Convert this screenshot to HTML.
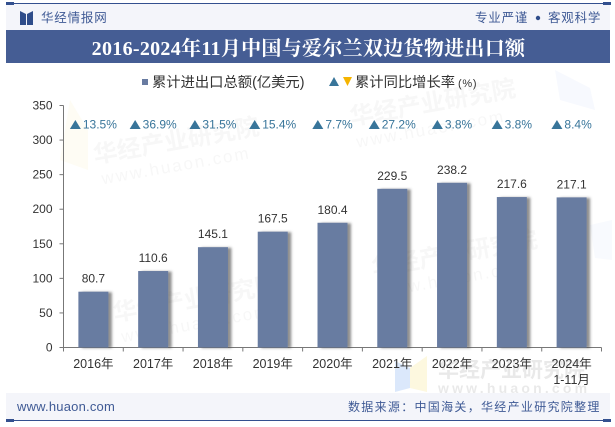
<!DOCTYPE html>
<html lang="zh">
<head>
<meta charset="utf-8">
<title>2016-2024年11月中国与爱尔兰双边货物进出口额</title>
<style>
html,body{margin:0;padding:0;background:#fff;width:615px;height:427px;overflow:hidden}
svg{display:block}
text{font-family:"Liberation Sans","Noto Sans CJK SC",sans-serif}
.serif{font-family:"Liberation Serif","Noto Serif CJK SC",serif}
</style>
</head>
<body>
<svg id="chart" xmlns="http://www.w3.org/2000/svg" width="615" height="427" viewBox="0 0 615 427">
  <defs>
    <filter id="barShadow" x="-20%" y="-5%" width="150%" height="110%">
      <feDropShadow dx="3.5" dy="0.5" stdDeviation="1.2" flood-color="#444" flood-opacity="0.6"/>
    </filter>
  </defs>
  <rect x="0" y="0" width="615" height="427" fill="#fff"/>

  <g id="watermarks">
    <g transform="rotate(-10 420 100)" opacity="0.035">
      <text x="348" y="113" font-size="24" font-weight="700" fill="#333">华经产业研究院</text>
      <text x="350" y="136" font-size="17" letter-spacing="2" fill="#333">www.huaon.com</text>
    </g>
    <g transform="rotate(-10 170 140)" opacity="0.035">
      <text x="92" y="150" font-size="24" font-weight="700" fill="#333">华经产业研究院</text>
      <text x="96" y="172" font-size="17" letter-spacing="2" fill="#333">www.huaon.com</text>
    </g>
    <g transform="rotate(-10 190 300)" opacity="0.03">
      <text x="112" y="308" font-size="24" font-weight="700" fill="#333">华经产业研究院</text>
      <text x="116" y="330" font-size="17" letter-spacing="2" fill="#333">www.huaon.com</text>
    </g>
    <g transform="rotate(-10 420 265)" opacity="0.03">
      <text x="372" y="268" font-size="24" font-weight="700" fill="#333">华经产业研究院</text>
      <text x="376" y="290" font-size="17" letter-spacing="2" fill="#333">www.huaon.com</text>
    </g>
    <polygon points="395,361 410,368 410,388 395,392" fill="#dbe8fb"/>
    <polygon points="410,368 427,356 427,392 410,388" fill="#fdf8df"/>
    <g opacity="0.1">
      <text x="438" y="377" font-size="21" font-weight="700" fill="#333">华经产业研究院</text>
      <text x="438" y="393" font-size="14" font-weight="700" letter-spacing="3.2" fill="#333">www.huaon.com</text>
    </g>
    <polygon points="555,70 590,88 595,110 560,100" fill="#f7f9fe"/>
    <polygon points="70,100 88,130 88,170 60,160" fill="#fefcf4"/>
    <polygon points="590,225 612,220 612,260 595,258" fill="#f8fafe"/>
  </g>

  <rect x="6" y="4" width="604" height="26" fill="#f4f5fa"/>
  <rect x="6" y="3" width="605" height="1" fill="#33508f"/>
  <rect x="6" y="2" width="8" height="3" fill="#33508f"/>
  <rect x="603" y="2" width="8" height="3" fill="#33508f"/>
  <polygon points="20,11 26,14 26,25 20,25" fill="#2f4d8a"/>
  <polygon points="33,11 27,14 27,25 33,25" fill="#2f4d8a"/>
  <text x="41" y="22" font-size="12.5" letter-spacing="0.8" fill="#3f5a95">华经情报网</text>
  <text x="475" y="22" font-size="12.5" letter-spacing="0.8" fill="#3f5a95">专业严谨</text>
  <circle cx="538" cy="18" r="2.2" fill="#2f4d8a"/>
  <text x="548" y="22" font-size="12.5" letter-spacing="0.8" fill="#3f5a95">客观科学</text>

  <rect x="6" y="30" width="604" height="33" fill="#455d94"/>
  <text class="serif" x="308.5" y="55" font-size="20" font-weight="700" letter-spacing="0.3" text-anchor="middle" fill="#fff">2016-2024年11月中国与爱尔兰双边货物进出口额</text>

  <rect x="142" y="79" width="6" height="6" fill="#687ba1"/>
  <text x="152" y="87" font-size="14.3" fill="#333">累计进出口总额(亿美元)</text>
  <polygon points="329,86 339,86 334,77" fill="#38759a"/>
  <polygon points="343,77 352,77 347.5,86" fill="#f5b400"/>
  <text x="355" y="87" font-size="14.3" fill="#333">累计同比增长率</text>
  <text x="458" y="87" font-size="11" letter-spacing="0.7" fill="#333">(%)</text>

  <g id="yAxis"></g>
  <g id="xAxis"></g>
  <g id="bars"></g>
  <g id="barLabels"></g>
  <g id="growth"></g>

  <rect x="6" y="393" width="604" height="27" fill="#f4f5fa"/>
  <rect x="6" y="420" width="605" height="1" fill="#33508f"/>
  <rect x="6" y="419" width="8" height="3" fill="#33508f"/>
  <rect x="603" y="419" width="8" height="3" fill="#33508f"/>
  <text x="17" y="411" font-size="13" letter-spacing="0.2" fill="#3f5a95">www.huaon.com</text>
  <text x="348" y="411" font-size="12" letter-spacing="1.3" fill="#3f5a95">数据来源：中国海关，华经产业研究院整理</text>
</svg>

<script>
var categories = ['2016年', '2017年', '2018年', '2019年', '2020年', '2021年', '2022年', '2023年', '2024年'];
var categorySublabels = ['', '', '', '', '', '', '', '', '1-11月'];
var tradeValues = [80.7, 110.6, 145.1, 167.5, 180.4, 229.5, 238.2, 217.6, 217.1];
var growthRates = [13.5, 36.9, 31.5, 15.4, 7.7, 27.2, 3.8, 3.8, 8.4];
var yTicks = [0, 50, 100, 150, 200, 250, 300, 350];

var NS = 'http://www.w3.org/2000/svg';
var plotLeft = 63.5, plotRight = 601.5, plotTop = 105.5, plotBottom = 347.5, yMax = 350;
var step = (plotRight - plotLeft) / categories.length;
var barWidth = 30;

function yScale(v) { return plotBottom - (v / yMax) * (plotBottom - plotTop); }
function xCenter(i) { return plotLeft + step * (i + 0.5); }
function xEdge(i) { return plotLeft + step * i; }
function make(tag, parent, attrs) {
  var el = document.createElementNS(NS, tag);
  Object.keys(attrs).forEach(function (k) { el.setAttribute(k, attrs[k]); });
  parent.appendChild(el);
  return el;
}

var yAxis = document.getElementById('yAxis');
var xAxis = document.getElementById('xAxis');
var barsG = document.getElementById('bars');
var labelsG = document.getElementById('barLabels');
var growthG = document.getElementById('growth');

var yLine = make('line', yAxis, { x1: plotLeft, x2: plotLeft, y1: plotTop, y2: plotBottom, stroke: '#777', 'stroke-width': 1 });



yTicks.forEach(function (t) {
  var y = yScale(t);
  var tick = make('line', yAxis, { x1: plotLeft - 4, x2: plotLeft, y1: y, y2: y, stroke: '#777', 'stroke-width': 1 });
  
  
  var label = make('text', yAxis, { x: plotLeft - 11, y: y + 4, 'font-size': 12, 'text-anchor': 'end', fill: '#333' });
  
  
  label.textContent = t;
});

var xLine = make('line', xAxis, { x1: plotLeft, x2: plotRight, y1: plotBottom, y2: plotBottom, stroke: '#777', 'stroke-width': 1 });



for (var k = 0; k <= categories.length; k++) {
  var xt = make('line', xAxis, { x1: xEdge(k), x2: xEdge(k), y1: plotBottom, y2: plotBottom + 4, stroke: '#777', 'stroke-width': 1 });
  
  
}

categories.forEach(function (c, i) {
  var cx = xCenter(i);

  var catLabel = make('text', xAxis, { x: cx, y: 368, 'font-size': 12.5, 'text-anchor': 'middle', fill: '#333' });
  
  
  catLabel.textContent = c;

  if (categorySublabels[i]) {
    var sub = make('text', xAxis, { x: cx, y: 384, 'font-size': 12.5, 'text-anchor': 'middle', fill: '#333' });
    
    
    sub.textContent = categorySublabels[i];
  }

  var top = yScale(tradeValues[i]);
  var bar = make('rect', barsG, { x: cx - barWidth / 2, y: top, width: barWidth, height: plotBottom - top, fill: '#687ba1', filter: 'url(#barShadow)' });
  
  

  var val = make('text', labelsG, { x: cx, y: top - 9, 'font-size': 12, 'text-anchor': 'middle', fill: '#333' });
  
  
  val.textContent = tradeValues[i].toFixed(1);

  var rate = growthRates[i];
  var txt = make('text', growthG, { x: 0, y: 128.5, 'font-size': 12, fill: '#38759a' });
  
  
  txt.textContent = Math.abs(rate).toFixed(1) + '%';
  var tw = txt.getComputedTextLength();
  var left = cx - (tw + 13) / 2;
  txt.setAttribute('x', left + 13);

  var up = rate >= 0;
  var pts = up
    ? [[left, 129], [left + 11, 129], [left + 5.5, 120]]
    : [[left, 120], [left + 11, 120], [left + 5.5, 129]];
  var tri = make('polygon', growthG, {
    points: pts.map(function (p) { return p.join(','); }).join(' '),
    fill: up ? '#38759a' : '#f5b400'
  });
  
  
});
</script>
</body>
</html>
